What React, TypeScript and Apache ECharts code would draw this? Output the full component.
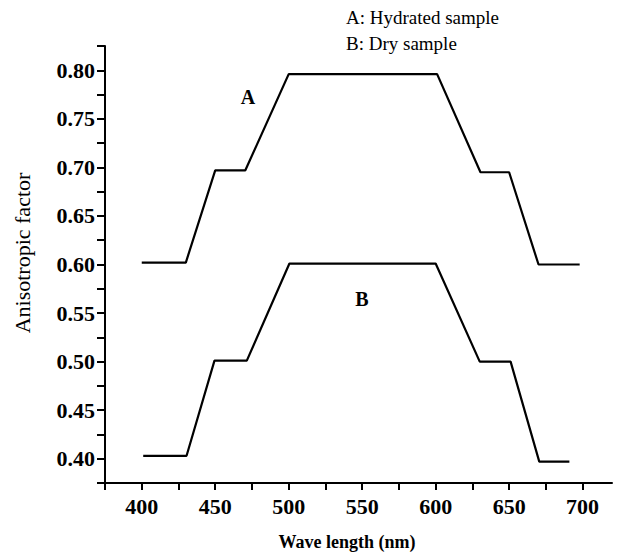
import React, { useEffect, useRef } from "react";
import * as echarts from "echarts";

const wavelengthA = [400, 430, 450, 470.5, 500, 601, 630.5, 650, 670, 698];
const factorA = [0.602, 0.602, 0.697, 0.697, 0.796, 0.796, 0.695, 0.695, 0.6, 0.6];
const wavelengthB = [401, 430.5, 449.5, 471.5, 500.5, 600, 630, 651, 670.5, 691];
const factorB = [0.403, 0.403, 0.501, 0.501, 0.601, 0.601, 0.5, 0.5, 0.397, 0.397];

const xTicks = [375, 400, 425, 450, 475, 500, 525, 550, 575, 600, 625, 650, 675, 700];
const xLabels = [400, 450, 500, 550, 600, 650, 700];
const yTicks = [0.375, 0.4, 0.425, 0.45, 0.475, 0.5, 0.525, 0.55, 0.575, 0.6, 0.625, 0.65, 0.675, 0.7, 0.725, 0.75, 0.775, 0.8, 0.825];
const yLabels = [0.4, 0.45, 0.5, 0.55, 0.6, 0.65, 0.7, 0.75, 0.8];

const FONT = "Liberation Serif";

export default function App() {
  const ref = useRef<HTMLDivElement>(null);
  useEffect(() => {
    if (!ref.current) return;
    const chart = echarts.init(ref.current, undefined, { renderer: "svg" });
    const lineStyle = { color: "#000", width: 2.2 };
    const txt = (text: string, size: number, weight: string, extra: any) => ({
      text,
      fontFamily: FONT,
      fontSize: size,
      fontWeight: weight,
      fill: "#000",
      ...extra,
    });
    chart.setOption({
      animation: false,
      backgroundColor: "#fff",
      grid: { left: 105, right: 5, top: 46, bottom: 72, containLabel: false },
      xAxis: {
        type: "value",
        min: 375,
        max: 720,
        interval: 25,
        splitLine: { show: false },
        axisLine: { onZero: false, lineStyle: { color: "#000", width: 2 } },
        axisTick: { show: true, length: 7, customValues: xTicks, lineStyle: { color: "#000", width: 2 } },
        axisLabel: {
          customValues: xLabels,
          margin: 12,
          color: "#000",
          fontFamily: FONT,
          fontWeight: "bold",
          fontSize: 22,
          formatter: (v: number) => String(v),
        },
      },
      yAxis: {
        type: "value",
        min: 0.375,
        max: 0.825,
        interval: 0.025,
        splitLine: { show: false },
        axisLine: { onZero: false, lineStyle: { color: "#000", width: 2 } },
        axisTick: { show: true, length: 8, customValues: yTicks, lineStyle: { color: "#000", width: 2 } },
        axisLabel: {
          customValues: yLabels,
          margin: 10,
          color: "#000",
          fontFamily: FONT,
          fontWeight: "bold",
          fontSize: 22,
          formatter: (v: number) => v.toFixed(2),
        },
      },
      series: [
        {
          type: "line",
          data: wavelengthA.map((x, i) => [x, factorA[i]]),
          symbol: "none",
          lineStyle,
        },
        {
          type: "line",
          data: wavelengthB.map((x, i) => [x, factorB[i]]),
          symbol: "none",
          lineStyle,
        },
      ],
      graphic: [
        {
          type: "text",
          x: 346,
          y: 17,
          style: txt("A: Hydrated sample", 19, "normal", { textVerticalAlign: "middle" }),
        },
        {
          type: "text",
          x: 346,
          y: 43,
          style: txt("B: Dry sample", 19, "normal", { textVerticalAlign: "middle" }),
        },
        {
          type: "text",
          x: 248,
          y: 97,
          style: txt("A", 20, "bold", { textAlign: "center", textVerticalAlign: "middle" }),
        },
        {
          type: "text",
          x: 362,
          y: 299,
          style: txt("B", 20, "bold", { textAlign: "center", textVerticalAlign: "middle" }),
        },
        {
          type: "text",
          x: 347,
          y: 542,
          style: txt("Wave length (nm)", 18, "bold", { textAlign: "center", textVerticalAlign: "middle" }),
        },
        {
          type: "text",
          x: 22,
          y: 253,
          rotation: Math.PI / 2,
          style: txt("Anisotropic factor", 22, "normal", { textAlign: "center", textVerticalAlign: "middle" }),
        },
      ],
    });
    return () => chart.dispose();
  }, []);
  return <div ref={ref} style={{ width: 617, height: 555, position: "absolute", left: 0, top: 0 }} />;
}
